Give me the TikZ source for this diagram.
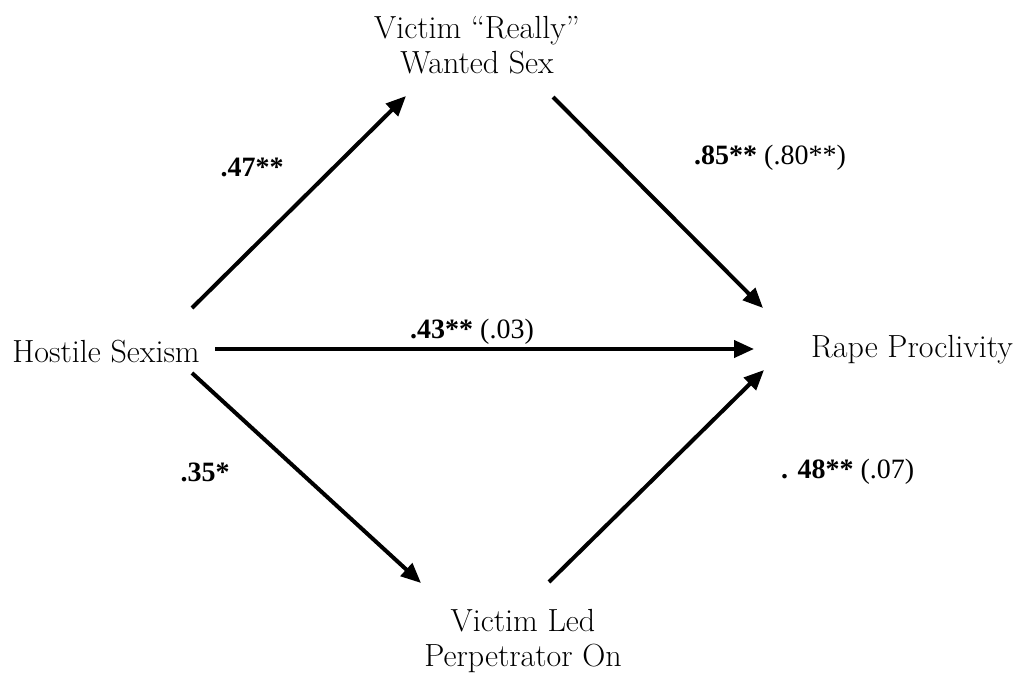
\documentclass[tikz,border=0pt]{standalone}
\usepackage{fontspec}
\newfontfamily\numfont{Liberation Serif}
\usetikzlibrary{arrows.meta}
\begin{document}
\begin{tikzpicture}[x=1pt,y=-1pt,
  var/.style={font=\fontsize{32}{35}\selectfont, align=center, inner sep=0pt},
  coef/.style={font=\numfont\fontsize{28}{30}\selectfont, inner sep=0pt},
  path/.style={line width=4pt, -{Triangle[length=20pt,width=17pt]}}]
\useasboundingbox (0,0) rectangle (1023,678);
\node[var] (hs) at (106,352) {Hostile Sexism};
\node[var] (vrw) at (477,45) {Victim ``Really''\\Wanted Sex};
\node[var] (rp) at (912,350) {Rape Proclivity};
\node[var] (vlp) at (523,641) {Victim Led\\Perpetrator On};
\coordinate (a1) at (192,308);
\coordinate (a2) at (406,96);
\coordinate (b1) at (553,97);
\coordinate (b2) at (763,308);
\coordinate (c1) at (215,349);
\coordinate (c2) at (754,349);
\coordinate (d1) at (192,373);
\coordinate (d2) at (421,583);
\coordinate (e1) at (549,582);
\coordinate (e2) at (764,370);
\draw[path] (a1) -- (a2);
\draw[path] (b1) -- (b2);
\draw[path] (c1) -- (c2);
\draw[path] (d1) -- (d2);
\draw[path] (e1) -- (e2);
\node[coef] (l1) at (252,167) {\textbf{.47**}};
\node[coef, anchor=west] (l2) at (694,158) {\textbf{.85**} (.80**)};
\node[coef, anchor=west] (l3) at (410,332) {\textbf{.43**} (.03)};
\node[coef] (l4) at (205,472) {\textbf{.35*}};
\node[coef, anchor=west] (l5) at (781,472) {\textbf{. 48**} (.07)};
\end{tikzpicture}
\end{document}
